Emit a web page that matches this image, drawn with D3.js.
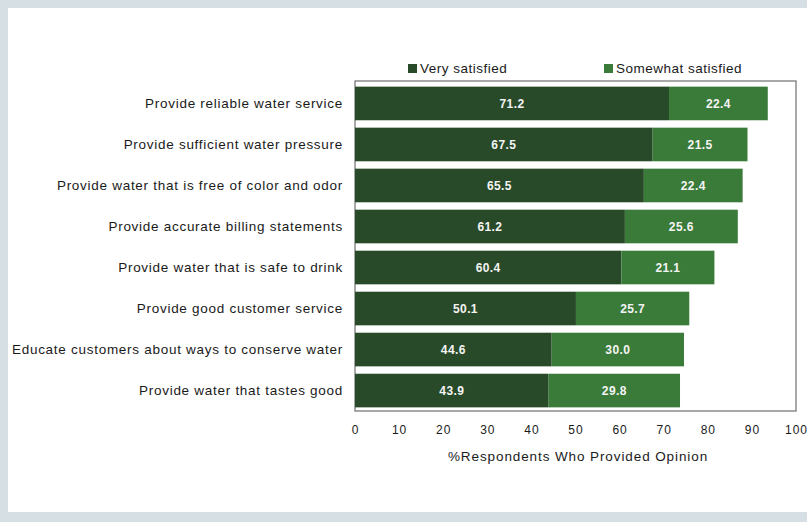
<!DOCTYPE html>
<html>
<head>
<meta charset="utf-8">
<script src="https://cdn.jsdelivr.net/npm/d3@7"></script>
<style>
  html, body { margin: 0; padding: 0; background: #d6e0e4; }
  svg { display: block; }
  text { font-family: "Liberation Sans", Arial, sans-serif; }
</style>
</head>
<body>
<svg id="chart" width="807" height="522"></svg>
<script>
// Satisfaction with water utility services
const categories = [
  "Provide reliable water service",
  "Provide sufficient water pressure",
  "Provide water that is free of color and odor",
  "Provide accurate billing statements",
  "Provide water that is safe to drink",
  "Provide good customer service",
  "Educate customers about ways to conserve water",
  "Provide water that tastes good"
];
const verySatisfied     = [71.2, 67.5, 65.5, 61.2, 60.4, 50.1, 44.6, 43.9];
const somewhatSatisfied = [22.4, 21.5, 22.4, 25.6, 21.1, 25.7, 30.0, 29.8];
const seriesNames = ["Very satisfied", "Somewhat satisfied"];
const tickValues = [0, 10, 20, 30, 40, 50, 60, 70, 80, 90, 100];

const colors = ["#284a28", "#3b7b3a"];

const svg = d3.select("#chart");
const W = 807, H = 522;

// white sheet
svg.append("rect").attr("x", 8).attr("y", 8).attr("width", W - 8).attr("height", 504)
  .attr("fill", "#ffffff");

const plot = { left: 355, right: 796, top: 81, bottom: 411 };

const x = d3.scaleLinear().domain([0, 100]).range([plot.left, plot.right]);
const y = d3.scaleBand().domain(categories).range([plot.top + 4, plot.bottom - 2]).paddingInner(0.18).paddingOuter(0.04);

// plot frame
svg.append("rect")
  .attr("x", plot.left).attr("y", plot.top)
  .attr("width", plot.right - plot.left).attr("height", plot.bottom - plot.top)
  .attr("fill", "none").attr("stroke", "#6f6f6f").attr("stroke-width", 1.2);

const rows = categories.map((c, i) => ({ cat: c, v: [verySatisfied[i], somewhatSatisfied[i]] }));

const g = svg.append("g");
rows.forEach(r => {
  let start = 0;
  r.v.forEach((val, s) => {
    g.append("rect")
      .attr("x", x(start)).attr("y", y(r.cat))
      .attr("width", x(start + val) - x(start)).attr("height", y.bandwidth())
      .attr("fill", colors[s]);
    g.append("text")
      .attr("x", (x(start) + x(start + val)) / 2)
      .attr("y", y(r.cat) + y.bandwidth() / 2)
      .attr("dy", "0.36em")
      .attr("text-anchor", "middle")
      .attr("fill", "#f4f4f4")
      .style("font-size", "12px")
      .style("font-weight", "bold")
      .style("letter-spacing", "0.4px")
      .text(val.toFixed(1));
    start += val;
  });
});

// category labels
const yAxis = d3.axisLeft(y).tickSize(0).tickPadding(12);
const ya = svg.append("g").attr("transform", `translate(${plot.left},0)`).call(yAxis);
ya.select(".domain").remove();
ya.selectAll("text")
  .attr("fill", "#1a1a1a")
  .style("font-size", "13.5px")
  .style("letter-spacing", "0.72px")
  .style("font-family", "'Liberation Sans', Arial, sans-serif");

// x axis tick labels
const xAxis = d3.axisBottom(x).tickValues(tickValues).tickSize(0).tickPadding(14).tickFormat(d3.format("d"));
const xa = svg.append("g").attr("transform", `translate(0,${plot.bottom})`).call(xAxis);
xa.select(".domain").remove();
xa.selectAll("text")
  .attr("fill", "#1a1a1a")
  .style("font-size", "12px")
  .style("letter-spacing", "1px")
  .style("font-family", "'Liberation Sans', Arial, sans-serif");

// axis title
svg.append("text")
  .attr("x", 578).attr("y", 461)
  .attr("text-anchor", "middle")
  .attr("fill", "#1a1a1a")
  .style("font-size", "13.5px")
  .style("letter-spacing", "0.9px")
  .text("%Respondents Who Provided Opinion");

// legend
const legendX = [408, 604];
seriesNames.forEach((name, i) => {
  svg.append("rect")
    .attr("x", legendX[i]).attr("y", 64)
    .attr("width", 9).attr("height", 9)
    .attr("fill", colors[i]);
  svg.append("text")
    .attr("x", legendX[i] + 12).attr("y", 73)
    .attr("fill", "#1a1a1a")
    .style("font-size", "13.5px")
    .style("letter-spacing", "0.5px")
    .text(name);
});
</script>
</body>
</html>
